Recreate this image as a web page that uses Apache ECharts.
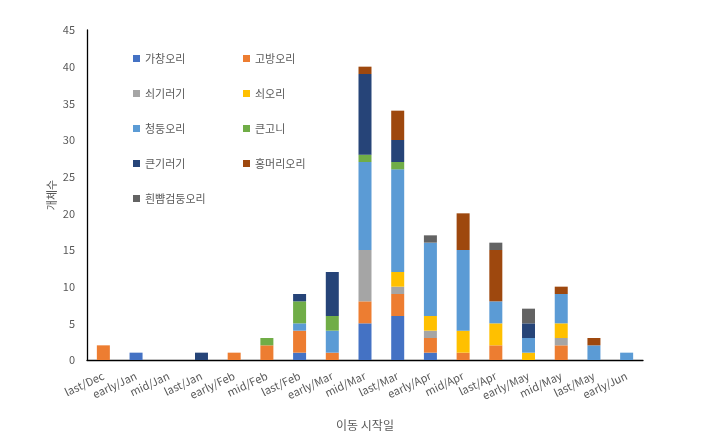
<!DOCTYPE html>
<html><head><meta charset="utf-8">
<script src="https://cdn.jsdelivr.net/npm/echarts@6/dist/echarts.min.js"></script>
<style>html,body{margin:0;padding:0;background:#fff}#c{width:708px;height:441px}</style>
</head><body><div id="c"></div>
<script>
var categories = ['last/Dec','early/Jan','mid/Jan','last/Jan','early/Feb','mid/Feb','last/Feb','early/Mar','mid/Mar','last/Mar','early/Apr','mid/Apr','last/Apr','early/May','mid/May','last/May','early/Jun'];
var seriesNames = ['가창오리','고방오리','쇠기러기','쇠오리','청둥오리','큰고니','큰기러기','홍머리오리','흰뺨검둥오리'];
var gachang  = [0,1,0,0,0,0,1,0,5,6,1,0,0,0,0,0,0];
var gobang   = [2,0,0,0,1,2,3,1,3,3,2,1,2,0,2,0,0];
var soegireogi=[0,0,0,0,0,0,0,0,7,1,1,0,0,0,1,0,0];
var soeori   = [0,0,0,0,0,0,0,0,0,2,2,3,3,1,2,0,0];
var cheongdung=[0,0,0,0,0,0,1,3,12,14,10,11,3,2,4,2,1];
var keungoni = [0,0,0,0,0,1,3,2,1,1,0,0,0,0,0,0,0];
var keungireogi=[0,0,0,1,0,0,1,6,11,3,0,0,0,2,0,0,0];
var hongmeori= [0,0,0,0,0,0,0,0,1,4,0,5,7,0,1,1,0];
var huinppyam= [0,0,0,0,0,0,0,0,0,0,1,0,1,2,0,0,0];
var yTicks = [0,5,10,15,20,25,30,35,40,45];

var allData = [gachang,gobang,soegireogi,soeori,cheongdung,keungoni,keungireogi,hongmeori,huinppyam];
var colors = ['#4472C4','#ED7D31','#A5A5A5','#FFC000','#5B9BD5','#70AD47','#264478','#9E480E','#636363'];
var font = '"Noto Sans CJK KR", "Noto Sans", sans-serif';
var series = seriesNames.map(function(n,i){
  return {name:n,type:'bar',stack:'s',barWidth:13,data:allData[i].map(function(v){return v===0?null:v;}),itemStyle:{color:colors[i]}};
});
var legendText = {fontFamily:font,fontSize:11,color:'#595959'};
var chart = echarts.init(document.getElementById('c'));
chart.setOption({
  animation:false,
  color:colors,
  legend:[
    {orient:'vertical',left:128,top:48,itemWidth:7,itemHeight:7,itemGap:24,icon:'rect',textStyle:legendText,
     data:['가창오리','쇠기러기','청둥오리','큰기러기','흰뺨검둥오리']},
    {orient:'vertical',left:238,top:48,itemWidth:7,itemHeight:7,itemGap:24,icon:'rect',textStyle:legendText,
     data:['고방오리','쇠오리','큰고니','홍머리오리']}
  ],
  grid:{left:87,right:65,top:30,bottom:81},
  xAxis:{type:'category',data:categories,
    axisLine:{lineStyle:{color:'#000',width:1.3}},axisTick:{show:false},
    axisLabel:{rotate:25,fontFamily:font,fontSize:11,color:'#595959',margin:15,interval:0},
    name:'이동 시작일',nameLocation:'middle',nameGap:59,nameMoveOverlap:false,nameTextStyle:{fontFamily:font,fontSize:12,color:'#595959'}},
  yAxis:{type:'value',min:0,max:45,interval:5,
    axisLine:{show:true,lineStyle:{color:'#000',width:1.3}},axisTick:{show:false},splitLine:{show:false},
    axisLabel:{fontFamily:font,fontSize:11,color:'#595959',margin:12},
    name:'개체수',nameLocation:'middle',nameGap:30,nameMoveOverlap:false,nameTextStyle:{fontFamily:font,fontSize:11,color:'#595959'}},
  series:series
});
</script></body></html>
